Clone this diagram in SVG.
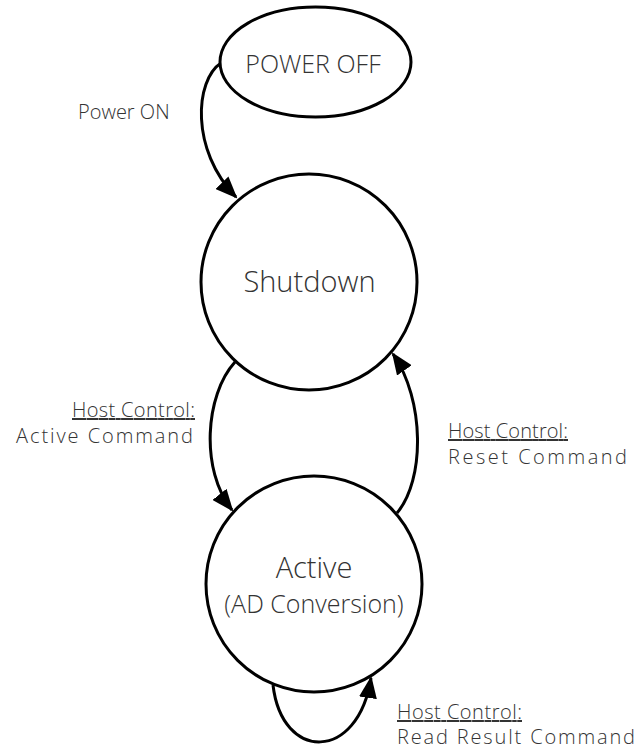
<svg xmlns="http://www.w3.org/2000/svg" width="641" height="750" viewBox="0 0 641 750">
<style>
.node{fill:#fff;stroke:#000;stroke-width:3}
.edge{fill:none;stroke:#000;stroke-width:3}
text{font-family:"Open Sans","Liberation Sans",sans-serif;font-weight:300;fill:#333}
.c{text-anchor:middle}
.lbl{font-size:20px}
.u{text-decoration:underline}
</style>
<defs>
<marker id="arr" markerUnits="userSpaceOnUse" markerWidth="22" markerHeight="18" refX="20" refY="9" orient="auto" viewBox="0 0 22 18">
<path d="M0,0 L22,9 L0,18 z" fill="#000"/>
</marker>
</defs>
<g id="edges">
<path class="edge" d="M221 63 C195 80 190 150 236 197" marker-end="url(#arr)"/>
<path class="edge" d="M235 362 C205 395 200 470 232 510" marker-end="url(#arr)"/>
<path class="edge" d="M397 513 C425 480 425 400 393 354" marker-end="url(#arr)"/>
<path class="edge" d="M273 685 C282 762 358 762 371 678" marker-end="url(#arr)"/>
</g>
<g id="power-off">
<ellipse class="node" cx="315.5" cy="62" rx="95.5" ry="55"/>
<text class="c" x="313" y="73" font-size="25">POWER OFF</text>
</g>
<g id="shutdown">
<circle class="node" cx="309" cy="282" r="108"/>
<text class="c" x="309.5" y="292" font-size="29">Shutdown</text>
</g>
<g id="active">
<circle class="node" cx="314" cy="584" r="108"/>
<text class="c" x="314" y="578" font-size="29">Active</text>
<text class="c" x="314" y="613" font-size="25">(AD Conversion)</text>
</g>
<g id="labels">
<text class="lbl" x="78" y="119">Power ON</text>
<text class="lbl u" x="72" y="417" textLength="123" lengthAdjust="spacing">Host Control:</text>
<text class="lbl" x="16" y="443" textLength="177" lengthAdjust="spacing">Active Command</text>
<text class="lbl u" x="448" y="438" textLength="120" lengthAdjust="spacing">Host Control:</text>
<text class="lbl" x="448" y="464" textLength="179" lengthAdjust="spacing">Reset Command</text>
<text class="lbl u" x="397" y="719" textLength="125" lengthAdjust="spacing">Host Control:</text>
<text class="lbl" x="397" y="744" textLength="238" lengthAdjust="spacing">Read Result Command</text>
</g>
</svg>
